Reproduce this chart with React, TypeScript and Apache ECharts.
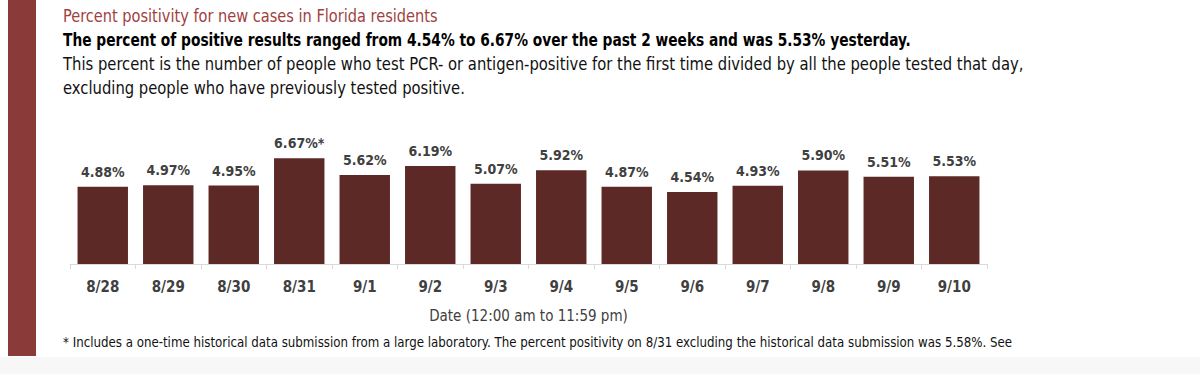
import React, { useEffect, useRef } from "react";
import * as echarts from "echarts";

const categories = ["8/28", "8/29", "8/30", "8/31", "9/1", "9/2", "9/3", "9/4", "9/5", "9/6", "9/7", "9/8", "9/9", "9/10"];
const positivity = [4.88, 4.97, 4.95, 6.67, 5.62, 6.19, 5.07, 5.92, 4.87, 4.54, 4.93, 5.90, 5.51, 5.53];
const labelMarks = ["", "", "", "*", "", "", "", "", "", "", "", "", "", ""];

const titleText = "Percent positivity for new cases in Florida residents";
const subtitleText = "The percent of positive results ranged from 4.54% to 6.67% over the past 2 weeks and was 5.53% yesterday.";
const descLine1 = "This percent is the number of people who test PCR- or antigen-positive for the first time divided by all the people tested that day,";
const descLine2 = "excluding people who have previously tested positive.";
const axisTitle = "Date (12:00 am to 11:59 pm)";
const footnoteText = "* Includes a one-time historical data submission from a large laboratory. The percent positivity on 8/31 excluding the historical data submission was 5.58%. See";

const FONT = "'DejaVu Sans Condensed', 'Liberation Sans', sans-serif";

export default function App() {
  const ref = useRef<HTMLDivElement>(null);
  useEffect(() => {
    document.body.style.margin = "0";
    const chart = echarts.init(ref.current!, null, { renderer: "svg" });
    chart.setOption({
      animation: false,
      backgroundColor: "#ffffff",
      textStyle: { fontFamily: FONT },
      grid: { left: 70, right: 213, top: 137.2, bottom: 110 },
      xAxis: {
        type: "category",
        data: categories,
        axisLine: { lineStyle: { color: "#d9d9d9", width: 1 } },
        axisTick: { show: true, length: 5, lineStyle: { color: "#d9d9d9" } },
        axisLabel: { color: "#404040", fontSize: 15, fontWeight: "bold", fontFamily: FONT, margin: 15 },
        name: axisTitle,
        nameLocation: "middle",
        nameGap: 44,
        nameTextStyle: { color: "#404040", fontSize: 15, fontFamily: FONT },
      },
      yAxis: {
        type: "value",
        min: 0,
        max: 8,
        show: false,
        splitLine: { show: false },
      },
      series: [
        {
          type: "bar",
          data: positivity,
          barCategoryGap: "23%",
          itemStyle: { color: "#5c2926" },
          label: {
            show: true,
            position: "top",
            distance: 8,
            color: "#404040",
            fontSize: 14,
            fontWeight: "bold",
            fontFamily: FONT,
            formatter: (p: any) => p.value.toFixed(2) + "%" + labelMarks[p.dataIndex],
          },
        },
      ],
      graphic: [
        { type: "rect", shape: { x: 0, y: 357, width: 1200, height: 17 }, style: { fill: "#f7f7f7" }, z: -1 },
        { type: "rect", shape: { x: 8, y: 0, width: 28, height: 356 }, style: { fill: "#8b3a3a" } },
        { type: "text", x: 63, y: 16, scaleX: 0.9, style: { text: titleText, fill: "#a0413f", fontSize: 18, fontFamily: FONT, verticalAlign: "middle" } },
        { type: "text", x: 63, y: 40, scaleX: 0.9, style: { text: subtitleText, fill: "#000000", fontSize: 17, fontWeight: "bold", fontFamily: FONT, verticalAlign: "middle" } },
        { type: "text", x: 63, y: 64, scaleX: 0.967, style: { text: descLine1, fill: "#111111", fontSize: 17, fontFamily: FONT, verticalAlign: "middle" } },
        { type: "text", x: 63, y: 88, scaleX: 0.967, style: { text: descLine2, fill: "#111111", fontSize: 17, fontFamily: FONT, verticalAlign: "middle" } },
        { type: "text", x: 63, y: 342, scaleX: 0.94, style: { text: footnoteText, fill: "#111111", fontSize: 14, fontFamily: FONT, verticalAlign: "middle" } },
      ],
    });
    return () => chart.dispose();
  }, []);
  return <div ref={ref} style={{ width: 1200, height: 374 }} />;
}
